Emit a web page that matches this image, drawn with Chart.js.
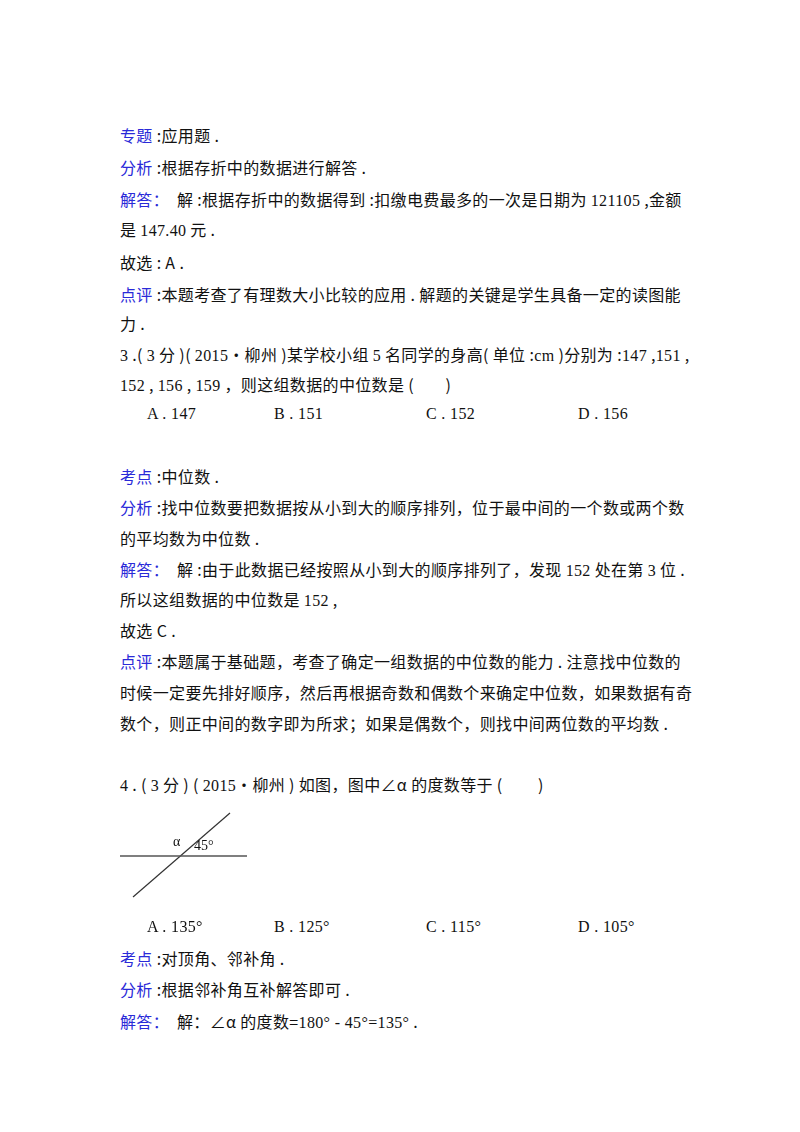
<!DOCTYPE html>
<html><head><meta charset="utf-8">
<script src="https://cdn.jsdelivr.net/npm/chart.js@4"></script>
<style>
body{margin:0;width:800px;height:1132px;background:#fff;position:relative;font-family:"Noto Sans CJK SC",sans-serif;font-size:16px;color:#111}
.l{position:absolute;left:120px;white-space:nowrap;line-height:22px;letter-spacing:0.35px}
.b{color:#2a2ad8}
.s{font-family:"Liberation Serif",serif}
#fig{position:absolute;left:110px;top:800px;width:150px;height:110px}
.t{position:absolute;font-family:"Liberation Serif",serif;font-size:14px}
</style></head><body>
<div class="l" style="top:124px"><span class="b">专题</span> :应用题 .</div>
<div class="l" style="top:156px"><span class="b">分析</span> :根据存折中的数据进行解答 .</div>
<div class="l" style="top:188px"><span class="b">解答：</span>&nbsp; 解 :根据存折中的数据得到 :扣缴电费最多的一次是日期为 <span class="s">121105</span> ,金额</div>
<div class="l" style="top:218px">是 <span class="s">147.40</span> 元 .</div>
<div class="l" style="top:251px">故选 : A .</div>
<div class="l" style="top:283px"><span class="b">点评</span> :本题考查了有理数大小比较的应用 . 解题的关键是学生具备一定的读图能</div>
<div class="l" style="top:312px">力 .</div>
<div class="l" style="top:343px"><span class="s">3</span> .( <span class="s">3</span> 分 )( <span class="s">2015</span>•柳州 )某学校小组 <span class="s">5</span> 名同学的身高( 单位 :<span class="s">cm</span> )分别为 :<span class="s">147</span> ,<span class="s">151</span> ,</div>
<div class="l" style="top:373px"><span class="s">152</span> , <span class="s">156</span> , <span class="s">159</span> ，则这组数据的中位数是 (&nbsp;&nbsp;&nbsp;&nbsp;&nbsp;&nbsp;&nbsp; )</div>
<div class="l s" style="top:403px;left:147px">A . 147</div>
<div class="l s" style="top:403px;left:274px">B . 151</div>
<div class="l s" style="top:403px;left:426px">C . 152</div>
<div class="l s" style="top:403px;left:578px">D . 156</div>
<div class="l" style="top:465px"><span class="b">考点</span> :中位数 .</div>
<div class="l" style="top:496px"><span class="b">分析</span> :找中位数要把数据按从小到大的顺序排列，位于最中间的一个数或两个数</div>
<div class="l" style="top:527px">的平均数为中位数 .</div>
<div class="l" style="top:558px"><span class="b">解答：</span>&nbsp; 解 :由于此数据已经按照从小到大的顺序排列了，发现 <span class="s">152</span> 处在第 <span class="s">3</span> 位 .</div>
<div class="l" style="top:588px">所以这组数据的中位数是 <span class="s">152</span> ,</div>
<div class="l" style="top:619px">故选 C .</div>
<div class="l" style="top:650px"><span class="b">点评</span> :本题属于基础题，考查了确定一组数据的中位数的能力 . 注意找中位数的</div>
<div class="l" style="top:681px">时候一定要先排好顺序，然后再根据奇数和偶数个来确定中位数，如果数据有奇</div>
<div class="l" style="top:712px">数个，则正中间的数字即为所求；如果是偶数个，则找中间两位数的平均数 .</div>
<div class="l" style="top:773px"><span class="s">4</span> . ( <span class="s">3</span> 分 ) ( <span class="s">2015</span>•柳州 ) 如图，图中∠α 的度数等于 (&nbsp;&nbsp;&nbsp;&nbsp;&nbsp;&nbsp;&nbsp;&nbsp; )</div>
<div id="fig"><canvas id="c" width="150" height="110"></canvas></div>
<div class="t" style="left:173px;top:834px">α</div>
<div class="t" style="left:194px;top:838px">45°</div>
<div class="l s" style="top:916px;left:147px">A . 135°</div>
<div class="l s" style="top:916px;left:274px">B . 125°</div>
<div class="l s" style="top:916px;left:426px">C . 115°</div>
<div class="l s" style="top:916px;left:578px">D . 105°</div>
<div class="l" style="top:947px"><span class="b">考点</span> :对顶角、邻补角 .</div>
<div class="l" style="top:978px"><span class="b">分析</span> :根据邻补角互补解答即可 .</div>
<div class="l" style="top:1010px"><span class="b">解答：</span>&nbsp; 解：∠α 的度数=<span class="s">180° - 45°=135°</span> .</div>
<script>
const horizX=[10,137], horizY=[56,56];
const diagX=[23,120], diagY=[97,13];
const pts=(xs,ys)=>xs.map((x,i)=>({x,y:ys[i]}));
new Chart(document.getElementById('c'),{type:'scatter',
data:{datasets:[
{data:pts(horizX,horizY),showLine:true,borderColor:'#555',borderWidth:1.3,pointRadius:0},
{data:pts(diagX,diagY),showLine:true,borderColor:'#333',borderWidth:1.2,pointRadius:0}]},
options:{responsive:false,animation:false,layout:{padding:0},
plugins:{legend:{display:false},tooltip:{enabled:false}},
scales:{x:{type:'linear',min:0,max:150,display:false},y:{type:'linear',min:0,max:110,reverse:true,display:false}}}});
</script>
</body></html>
